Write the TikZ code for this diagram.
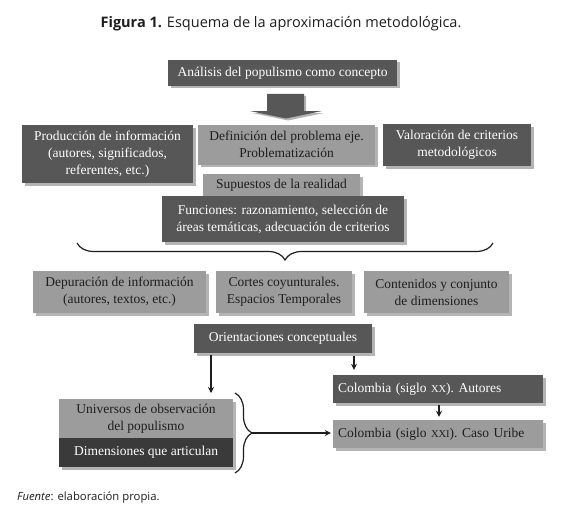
\documentclass[tikz,border=0pt]{standalone}
\usepackage{fontspec}
\setmainfont{Liberation Serif}
\newfontfamily\titlefont{Open Sans}
\usetikzlibrary{shadows,decorations.pathreplacing,arrows.meta,calc}
\definecolor{darkbox}{HTML}{575757}
\definecolor{lightbox}{HTML}{9C9C9C}
\definecolor{deepbox}{HTML}{3A3A3A}
\definecolor{shadowc}{HTML}{B4B4B4}
\definecolor{inkc}{HTML}{1E1E1E}
\begin{document}
\begin{tikzpicture}[x=1pt,y=-1pt,
  box/.style={rectangle, inner sep=0pt, align=center,
    font=\fontsize{13.5}{17}\selectfont,
    drop shadow={shadow xshift=2.5pt, shadow yshift=-2.5pt, fill=shadowc, opacity=1}},
  dark/.style={box, fill=darkbox, text=white},
  light/.style={box, fill=lightbox, text=inkc},
  deep/.style={box, fill=deepbox, text=white},
  leftbox/.style={align=left, inner xsep=5pt, text width=200pt},
  arr/.style={-{Stealth[length=6pt,width=6pt]}, line width=1.4pt, inkc},
  bracel/.style={decorate, line width=1.2pt, inkc}
]
\useasboundingbox (0,0) rectangle (580,516);
\fill[white] (0,0) rectangle (580,516);

\node[inkc] (title) at (281,24) {\titlefont\fontsize{14.5}{17}\selectfont\textbf{Figura 1.} Esquema de la aproximación metodológica.};

\node[dark, minimum width=229pt, minimum height=26pt] (A) at (282.5,73) {Análisis del populismo como concepto};

\fill[darkbox, drop shadow={shadow xshift=2pt, shadow yshift=-2pt, fill=shadowc, opacity=1}]
  (267,94) -- (304,94) -- (304,111) -- (322,111) -- (286,118.5) -- (250,111) -- (267,111) -- cycle;

\node[dark, minimum width=171pt, minimum height=58pt] (B) at (107.5,154) {Producción de información\\(autores, significados,\\referentes, etc.)};
\node[light, minimum width=177pt, minimum height=40pt] (C) at (286.5,144.5) {Definición del problema eje.\\Problematización};
\node[dark, minimum width=148pt, minimum height=42pt] (D) at (457,145) {Valoración de criterios\\metodológicos};
\node[light, minimum width=157pt, minimum height=22pt] (E) at (281.5,185) {Supuestos de la realidad};
\node[dark, minimum width=242pt, minimum height=46pt] (F) at (283,219) {Funciones: razonamiento, selección de\\áreas temáticas, adecuación de criterios};

\coordinate (b1s) at (77,243);
\coordinate (b1e) at (493,243);
\draw[bracel, decoration={brace, mirror, amplitude=17pt}] (b1s) -- (b1e);

\node[light, minimum width=173pt, minimum height=42pt] (G) at (119.5,292) {Depuración de información\\(autores, textos, etc.)};
\node[light, minimum width=136pt, minimum height=42pt] (H) at (284,292) {Cortes coyunturales.\\Espacios Temporales};
\node[light, minimum width=145pt, minimum height=42pt] (I) at (436.5,292) {Contenidos y conjunto\\de dimensiones};

\node[dark, minimum width=178pt, minimum height=29pt] (J) at (283,338.5) {Orientaciones conceptuales};

\node[dark, leftbox, minimum height=28pt] (K) at (438,389) {Colombia (siglo {\fontsize{10.5}{12}\selectfont XX}). Autores};
\node[light, leftbox, minimum height=28pt] (L) at (438,434) {Colombia (siglo {\fontsize{10.5}{12}\selectfont XXI}). Caso Uribe};

\node[light, minimum width=174pt, minimum height=39pt] (M) at (146,418.5) {Universos de observación\\del populismo};
\node[deep, minimum width=174pt, minimum height=29pt] (N) at (146,452.5) {Dimensiones que articulan};

\coordinate (b2s) at (235,393);
\coordinate (b2e) at (235,473);
\draw[bracel, decoration={brace, amplitude=17pt}] (b2s) -- (b2e);

\coordinate (jm) at (211,393);
\draw[arr] ([yshift=-1.5pt]J.south -| jm) -- (jm);
\coordinate (kx) at (354,0);
\draw[arr] ([yshift=-2.5pt]J.south -| kx) -- ([yshift=5pt]K.north -| kx);
\coordinate (lx) at (439,0);
\draw[arr] ([yshift=-2pt]K.south -| lx) -- ([yshift=3pt]L.north -| lx);
\coordinate (bt) at (252,433);
\draw[arr] (bt) -- ([xshift=-2pt]L.west |- bt);

\node[anchor=west, inkc, inner sep=0pt] (src) at (17,498) {\titlefont\fontsize{11.3}{13}\selectfont\textit{Fuente}: elaboración propia.};
\end{tikzpicture}
\end{document}
